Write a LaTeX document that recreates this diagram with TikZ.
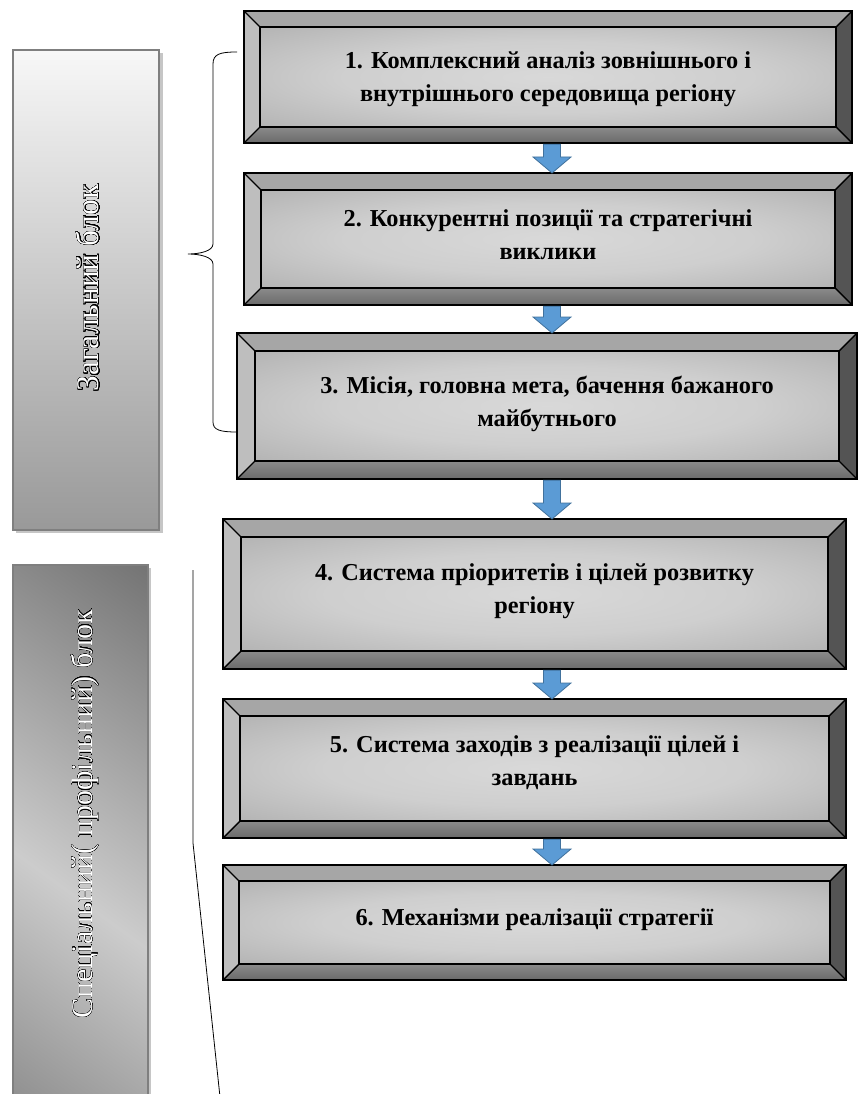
\documentclass[tikz,border=0pt]{standalone}
\usepackage{fontspec}
\setmainfont{Liberation Serif}
\usepackage{contour}
\contourlength{0.3pt}
\contournumber{32}
\usetikzlibrary{calc,backgrounds}
\definecolor{bevtop}{HTML}{A6A6A6}
\definecolor{bevleft}{HTML}{BEBEBE}
\definecolor{bevright}{HTML}{545454}
\definecolor{bevbot}{HTML}{767676}
\definecolor{arrfill}{HTML}{5B9BD5}
\definecolor{arrdraw}{HTML}{41719C}
\definecolor{panelborder}{HTML}{7F7F7F}
\pgfdeclareradialshading{pillow}{\pgfpoint{0bp}{0bp}}{%
  color(0bp)=(white!85!black);
  color(18bp)=(white!81!black);
  color(38bp)=(white!69!black);
  color(55bp)=(white!59!black);
  color(75bp)=(white!52!black)}
\newcommand\bevel[2]{%
  \begin{scope}[on background layer]
    \fill[bevtop] (#1.north west) -- (#1.north east) -- ($(#1.north east)+(-#2,#2)$) -- ($(#1.north west)+(#2,#2)$) -- cycle;
    \fill[bevleft] (#1.north west) -- ($(#1.north west)+(#2,#2)$) -- ($(#1.south west)+(#2,-#2)$) -- (#1.south west) -- cycle;
    \fill[bevright] (#1.north east) -- (#1.south east) -- ($(#1.south east)+(-#2,-#2)$) -- ($(#1.north east)+(-#2,#2)$) -- cycle;
    \shade[top color=bevbot!85!white, bottom color=bevbot!90!black] (#1.south west) -- (#1.south east) -- ($(#1.south east)+(-#2,-#2)$) -- ($(#1.south west)+(#2,-#2)$) -- cycle;
    \shade[shading=pillow] ($(#1.north west)+(#2,#2)$) rectangle ($(#1.south east)+(-#2,-#2)$);
    \draw[bevline] ($(#1.north west)+(#2,#2)$) rectangle ($(#1.south east)+(-#2,-#2)$);
    \draw[bevline] (#1.north west) -- ($(#1.north west)+(#2,#2)$);
    \draw[bevline] (#1.north east) -- ($(#1.north east)+(-#2,#2)$);
    \draw[bevline] (#1.south west) -- ($(#1.south west)+(#2,-#2)$);
    \draw[bevline] (#1.south east) -- ($(#1.south east)+(-#2,-#2)$);
    \draw[line width=2.2pt, line join=miter] (#1.north west) rectangle (#1.south east);
  \end{scope}}
\newcommand\blockarrow[2]{%
  \filldraw[fill=arrfill, draw=arrdraw, line width=0.8pt, line join=miter]
    ($(#1.south -| ax)+(-8.5,1.2)$) -- ($(#1.south -| ax)+(8.5,1.2)$) --
    ($(#2.north -| ax)+(8.5,-16)$) -- ($(#2.north -| ax)+(19,-16)$) --
    (#2.north -| ax) -- ($(#2.north -| ax)+(-19,-16)$) --
    ($(#2.north -| ax)+(-8.5,-16)$) -- cycle;}
\begin{document}
\begin{tikzpicture}[x=1pt,y=-1pt,
  bevline/.style={line width=1.4pt, line join=miter},
  boxtext/.style={align=center, font=\fontsize{24.3}{33}\selectfont\bfseries, inner sep=0pt, outer sep=0pt, text depth=0pt},
  paneltext/.style={rotate=90, inner sep=0pt}]
\useasboundingbox (0,0) rectangle (859,1094);
% left panels
\fill[gray!45] (16,53) rectangle (163,533);
\node[draw=panelborder, line width=1.5pt, top color=white!97!black, bottom color=white!60!black,
      minimum width=146pt, minimum height=480pt, inner sep=0pt] (p1) at (86,290) {};
\node[paneltext, font=\fontsize{31.5}{36}\selectfont] (t1) at (88,288) {\contour{black}{\textcolor{white}{Загальний блок}}};
\fill[gray!45] (16,568) rectangle (151,1100);
\begin{scope}
  \clip (13,565) rectangle (148,1100);
  \shade[top color=white!42!black, bottom color=white!40!black, middle color=white!80!black, shading angle=-36]
    (-260,560) rectangle (420,1240);
\end{scope}
\node[draw=panelborder, line width=1.5pt, minimum width=135pt, minimum height=540pt, inner sep=0pt] (p2) at (80.5,835) {};
\node[paneltext, font=\fontsize{30}{36}\selectfont] (t2) at (85,814) {\contour{black}{\textcolor{white}{Спеціальний( профільний) блок}}};
% brace and line
\draw[line width=0.8pt] (237,52) .. controls (220,52) and (213,54) .. (213,64) -- (213,244) .. controls (213,251) and (200,254) .. (188,254) .. controls (200,254) and (213,257) .. (213,264) -- (213,422) .. controls (213,430) and (220,432) .. (237,432);
\draw[line width=0.8pt] (193,570) -- (193,843) -- (220,1097);
% boxes
\coordinate (ax) at (552,0);
\node[boxtext, minimum width=608pt, minimum height=132pt] (b1) at (548,77) {1. Комплексний аналіз зовнішнього і\\внутрішнього середовища регіону};
\node[boxtext, text depth=9pt, minimum width=608pt, minimum height=132pt] (b2) at (548,239) {2. Конкурентні позиції та стратегічні\\виклики};
\node[boxtext, text depth=10pt, minimum width=620pt, minimum height=146pt] (b3) at (547,406) {3. Місія, головна мета, бачення бажаного\\майбутнього};
\node[boxtext, text depth=10pt, minimum width=623pt, minimum height=150pt] (b4) at (534.5,594) {4. Система пріоритетів і цілей розвитку\\регіону};
\node[boxtext, text depth=15pt, minimum width=623pt, minimum height=139pt] (b5) at (534.5,768.5) {5. Система заходів з реалізації цілей і\\завдань};
\node[boxtext, text depth=10pt, minimum width=623pt, minimum height=115pt] (b6) at (534.5,922.5) {6. Механізми реалізації стратегії};
\bevel{b1}{16}
\bevel{b2}{17}
\bevel{b3}{18}
\bevel{b4}{18}
\bevel{b5}{17}
\bevel{b6}{16}
\blockarrow{b1}{b2}
\blockarrow{b2}{b3}
\blockarrow{b3}{b4}
\blockarrow{b4}{b5}
\blockarrow{b5}{b6}
\end{tikzpicture}
\end{document}
